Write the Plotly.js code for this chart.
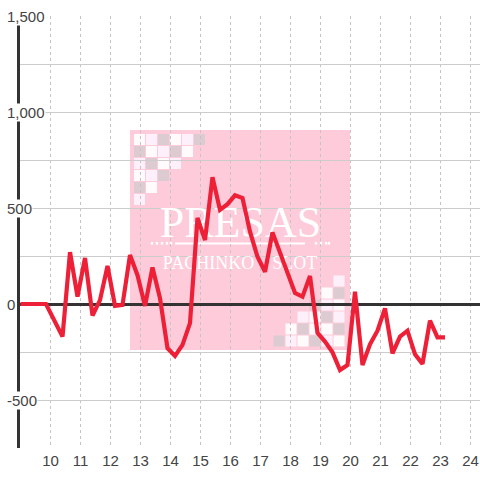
<!DOCTYPE html>
<html><head><meta charset="utf-8">
<script src="https://cdn.plot.ly/plotly-3.0.1.min.js"></script>
<style>html,body{margin:0;padding:0;background:#fff}#c{width:480px;height:480px}</style>
</head><body><div id="c"></div>
<script>
const xValues=[9,9.85,10.4,10.65,10.9,11.15,11.4,11.65,11.9,12.15,12.4,12.65,12.9,13.15,13.4,13.65,13.9,14.15,14.4,14.65,14.9,15.15,15.4,15.65,15.9,16.15,16.4,16.65,16.9,17.15,17.4,17.65,17.9,18.15,18.4,18.65,18.9,19.15,19.4,19.65,19.9,20.15,20.4,20.65,20.9,21.15,21.4,21.65,21.9,22.15,22.4,22.65,22.9,23.15];
const yValues=[0,0,-170,270,38,240,-60,20,198,-10,-5,255,150,-10,190,30,-230,-270,-213,-100,448,333,660,490,520,566,552,377,246,168,373,272,163,57,38,146,-150,-196,-252,-344,-318,64,-318,-210,-139,-23,-257,-170,-139,-262,-312,-87,-174,-174];
const xTicks=[10,11,12,13,14,15,16,17,18,19,20,21,22,23,24];
const yLabelValues=[1500,1000,500,0,-500];
const yLabelTexts=['1,500','1,000','500','0','-500'];
const logoTitle='PRESAS';
const logoSubtitle='PACHINKO    SLOT';
const patternTopLeft=['WLGWLG','GWLGW','LGWL','WLG','GW','L'];
const patternBottomRight=['.....L','....WG','...GLW','..LWGL','.WGWWG','GLWGLW'];

const RED='#ee2038',PINK='#fdcbda',W=480,H=480,L=20,R=0,T=16,B=32;
const px2x=p=>(p-L)/(W-L-R), py2y=p=>1-(p-T)/(H-T-B);
const swatch={W:'#fffafc',L:'#fdf0fa',G:'#dccbd0'};
const rect=(x0,y0,x1,y1,c)=>({type:'rect',layer:'below',xref:'paper',yref:'paper',x0:px2x(x0),x1:px2x(x1),y0:py2y(y0),y1:py2y(y1),fillcolor:c,line:{width:0}});
const shapes=[rect(130,130,350,350,PINK)];
patternTopLeft.forEach((row,r)=>[...row].forEach((k,c)=>{const x=134+c*12,y=134+r*12;shapes.push(rect(x,y,x+11,y+11,swatch[k]));}));
patternBottomRight.forEach((row,r)=>[...row].forEach((k,c)=>{if(k==='.')return;const x=273.5+c*12,y=275.5+r*12;shapes.push(rect(x,y,x+11,y+11,swatch[k]));}));
shapes.push(rect(175,242.5,305,244.5,'#ffffff'));
[152,157,162,167,171,316,321,326,329].forEach(p=>shapes.push(rect(p-1.2,242,p+1.2,244.6,'#ffffff')));

const pxX=p=>10+(p-50.5)/30, pxY=p=>(304-p)/0.192;
const logo={x:[pxX(240.5),pxX(240)],y:[pxY(226),pxY(264)],mode:'text',text:[logoTitle,logoSubtitle],
  textposition:'middle center',textfont:{family:'Liberation Serif',color:'#ffffff',size:[44,18]},hoverinfo:'skip',showlegend:false,type:'scatter',cliponaxis:false};
const line={x:xValues,y:yValues,mode:'lines',type:'scatter',line:{color:RED,width:4.2,shape:'linear'},hoverinfo:'skip',showlegend:false};
const annotations=yLabelValues.map((v,i)=>({xref:'paper',yref:'y',x:px2x(6),y:v,xanchor:'left',yanchor:'middle',text:yLabelTexts[i],showarrow:false,
  font:{family:'Liberation Sans',size:15,color:'#444444'},bgcolor:'#ffffff',borderpad:0}));
Plotly.newPlot('c',[logo,line],{
  width:W,height:H,margin:{l:L,r:R,t:T,b:B,pad:0},paper_bgcolor:'#fff',plot_bgcolor:'#fff',showlegend:false,
  xaxis:{range:[8.983,24.317],tickvals:xTicks,ticktext:xTicks.map(String),ticks:'',ticklabelstandoff:2,showgrid:true,griddash:'dot',gridcolor:'#c4c4c4',gridwidth:1,zeroline:false,showline:false,
    tickfont:{family:'Liberation Sans',size:15,color:'#444444'}},
  yaxis:{range:[-750,1500],dtick:250,tick0:0,showticklabels:false,ticks:'',gridcolor:'#cccccc',gridwidth:1,zeroline:true,zerolinecolor:'#333333',zerolinewidth:3,showline:true,linecolor:'#333333',linewidth:3},
  shapes,annotations
},{displayModeBar:false,staticPlot:true});
</script></body></html>
